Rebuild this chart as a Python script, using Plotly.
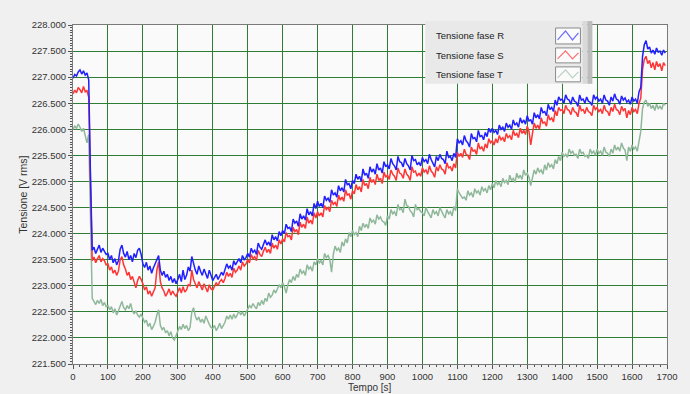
import plotly.graph_objects as go

# time axis (s), one sample every 5 s
tempo = list(range(0, 1700, 5))

fase_R = [
    226.98, 227.05, 227.02, 227.10, 227.14, 227.06, 227.12, 227.04, 227.08, 226.95, 225.10, 223.68, 223.74, 223.62, 223.70, 223.78, 223.64, 223.72, 223.66, 223.60,
    223.62, 223.50, 223.58, 223.44, 223.52, 223.40, 223.48, 223.70, 223.78, 223.62, 223.55, 223.66, 223.50, 223.58, 223.46, 223.62, 223.54, 223.68, 223.72, 223.60,
    223.42, 223.35, 223.45, 223.30, 223.38, 223.24, 223.34, 223.42, 223.50, 223.58, 223.30, 223.20, 223.28, 223.16, 223.22, 223.10, 223.18, 223.06, 223.14, 223.04,
    223.12, 223.22, 223.08, 223.30, 223.12, 223.20, 223.36, 223.28, 223.56, 223.40, 223.30, 223.22, 223.38, 223.28, 223.20, 223.32, 223.24, 223.14, 223.30, 223.18,
    223.10, 223.16, 223.22, 223.12, 223.18, 223.26, 223.20, 223.30, 223.42, 223.34, 223.38, 223.30, 223.48, 223.40, 223.46, 223.52, 223.44, 223.58, 223.50, 223.54,
    223.62, 223.55, 223.72, 223.64, 223.68, 223.60, 223.82, 223.74, 223.70, 223.80, 223.88, 223.78, 223.84, 223.76, 223.98, 223.88, 223.94, 223.86, 224.04, 223.96,
    224.06, 224.00, 224.18, 224.10, 224.12, 224.04, 224.28, 224.20, 224.24, 224.14, 224.38, 224.28, 224.34, 224.26, 224.48, 224.36, 224.42, 224.34, 224.58, 224.48,
    224.62, 224.52, 224.58, 224.50, 224.72, 224.64, 224.68, 224.60, 224.84, 224.74, 224.78, 224.70, 224.92, 224.82, 224.88, 224.80, 225.04, 224.94, 224.96, 224.86,
    225.02, 224.96, 225.14, 225.04, 225.10, 225.00, 225.24, 225.12, 225.16, 225.06, 225.28, 225.18, 225.24, 225.14, 225.34, 225.22, 225.26, 225.16, 225.38, 225.28,
    225.32, 225.24, 225.44, 225.34, 225.30, 225.22, 225.48, 225.38, 225.36, 225.28, 225.44, 225.34, 225.30, 225.22, 225.50, 225.40, 225.42, 225.32, 225.36, 225.30,
    225.46, 225.38, 225.42, 225.34, 225.52, 225.42, 225.36, 225.28, 225.48, 225.40, 225.52, 225.44, 225.42, 225.34, 225.58, 225.46, 225.48, 225.40, 225.54, 225.46,
    225.82, 225.74, 225.78, 225.70, 225.88, 225.78, 225.74, 225.66, 225.92, 225.82, 225.84, 225.76, 225.98, 225.86, 225.88, 225.80, 225.94, 225.86, 226.02, 225.94,
    226.02, 225.94, 225.98, 225.90, 226.08, 226.00, 226.04, 225.96, 226.12, 226.04, 226.08, 226.00, 226.18, 226.08, 226.12, 226.04, 226.22, 226.12, 226.18, 226.10,
    226.26, 226.16, 226.18, 226.10, 226.32, 226.22, 226.28, 226.20, 226.42, 226.32, 226.34, 226.26, 226.48, 226.38, 226.42, 226.34, 226.56, 226.46, 226.62, 226.56,
    226.58, 226.50, 226.66, 226.58, 226.56, 226.48, 226.62, 226.54, 226.52, 226.44, 226.66, 226.56, 226.58, 226.50, 226.62, 226.54, 226.52, 226.46, 226.66, 226.58,
    226.62, 226.54, 226.58, 226.50, 226.66, 226.56, 226.54, 226.46, 226.62, 226.54, 226.68, 226.58, 226.56, 226.48, 226.64, 226.56, 226.60, 226.52, 226.56, 226.48,
    226.62, 226.54, 226.58, 226.50, 226.72, 226.80, 227.40, 227.62, 227.70, 227.54, 227.58, 227.46, 227.52, 227.44, 227.56, 227.48, 227.50, 227.42, 227.52, 227.46,
]

fase_S = [
    226.68, 226.75, 226.70, 226.80, 226.76, 226.70, 226.82, 226.72, 226.74, 226.62, 225.00, 223.48, 223.55, 223.44, 223.52, 223.58, 223.46, 223.52, 223.48, 223.40,
    223.42, 223.30, 223.36, 223.24, 223.30, 223.20, 223.28, 223.50, 223.56, 223.40, 223.32, 223.20, 223.26, 223.12, 223.18, 223.06, 222.96, 223.10, 223.18, 223.12,
    223.04, 222.92, 222.98, 222.84, 222.90, 222.80, 222.88, 222.96, 223.30, 223.46, 223.08, 222.96, 222.90, 222.80, 222.86, 222.94, 222.82, 222.90, 222.84, 222.80,
    222.88, 222.96, 222.86, 222.98, 222.88, 222.92, 223.02, 223.00, 223.30, 223.12, 223.04, 222.96, 223.08, 223.00, 222.92, 223.04, 222.96, 222.88, 223.02, 222.94,
    222.92, 222.98, 223.06, 223.00, 223.08, 223.12, 223.06, 223.14, 223.26, 223.18, 223.24, 223.16, 223.34, 223.26, 223.30, 223.38, 223.30, 223.46, 223.38, 223.42,
    223.50, 223.44, 223.60, 223.52, 223.56, 223.48, 223.68, 223.60, 223.56, 223.66, 223.74, 223.64, 223.70, 223.62, 223.82, 223.72, 223.78, 223.70, 223.88, 223.80,
    223.90, 223.84, 224.02, 223.94, 223.96, 223.88, 224.12, 224.04, 224.08, 223.98, 224.22, 224.12, 224.18, 224.10, 224.32, 224.20, 224.26, 224.18, 224.40, 224.30,
    224.42, 224.34, 224.40, 224.32, 224.54, 224.46, 224.50, 224.42, 224.64, 224.56, 224.60, 224.52, 224.74, 224.64, 224.70, 224.62, 224.84, 224.74, 224.76, 224.66,
    224.82, 224.76, 224.94, 224.84, 224.90, 224.80, 225.04, 224.92, 224.96, 224.86, 225.08, 224.98, 225.04, 224.94, 225.14, 225.02, 225.06, 224.96, 225.18, 225.08,
    225.12, 225.04, 225.22, 225.14, 225.10, 225.02, 225.26, 225.16, 225.14, 225.06, 225.24, 225.14, 225.10, 225.02, 225.28, 225.18, 225.20, 225.10, 225.16, 225.10,
    225.26, 225.18, 225.22, 225.14, 225.30, 225.20, 225.16, 225.08, 225.28, 225.20, 225.32, 225.24, 225.22, 225.14, 225.36, 225.26, 225.28, 225.20, 225.34, 225.26,
    225.56, 225.48, 225.54, 225.46, 225.62, 225.52, 225.50, 225.42, 225.66, 225.58, 225.60, 225.52, 225.74, 225.62, 225.66, 225.58, 225.72, 225.64, 225.82, 225.74,
    225.78, 225.70, 225.82, 225.74, 225.88, 225.80, 225.84, 225.76, 225.92, 225.84, 225.88, 225.80, 225.98, 225.88, 225.92, 225.84, 226.02, 225.92, 225.98, 225.90,
    226.06, 225.96, 225.70, 225.92, 226.12, 226.02, 226.08, 226.00, 226.22, 226.12, 226.14, 226.06, 226.28, 226.18, 226.22, 226.14, 226.36, 226.26, 226.42, 226.36,
    226.38, 226.30, 226.46, 226.38, 226.36, 226.28, 226.42, 226.34, 226.32, 226.24, 226.46, 226.36, 226.38, 226.30, 226.42, 226.34, 226.32, 226.26, 226.46, 226.38,
    226.42, 226.34, 226.38, 226.30, 226.46, 226.36, 226.34, 226.26, 226.42, 226.34, 226.48, 226.38, 226.36, 226.28, 226.44, 226.36, 226.40, 226.22, 226.36, 226.28,
    226.42, 226.34, 226.38, 226.30, 226.50, 226.60, 227.15, 227.34, 227.40, 227.26, 227.32, 227.18, 227.28, 227.14, 227.30, 227.20, 227.26, 227.12, 227.28, 227.22,
]

fase_T = [
    226.00, 226.06, 226.02, 226.10, 226.04, 225.96, 226.02, 225.88, 225.74, 225.90, 224.40, 222.76, 222.70, 222.64, 222.72, 222.66, 222.74, 222.62, 222.68, 222.60,
    222.62, 222.54, 222.60, 222.48, 222.56, 222.44, 222.52, 222.62, 222.70, 222.58, 222.54, 222.62, 222.56, 222.66, 222.52, 222.46, 222.52, 222.44, 222.40, 222.46,
    222.36, 222.30, 222.34, 222.22, 222.28, 222.16, 222.22, 222.30, 222.44, 222.54, 222.24, 222.16, 222.20, 222.10, 222.14, 222.04, 222.12, 222.00, 221.96, 222.06,
    222.14, 222.22, 222.16, 222.26, 222.18, 222.24, 222.14, 222.20, 222.50, 222.58, 222.42, 222.34, 222.40, 222.30, 222.36, 222.28, 222.42, 222.32, 222.26, 222.20,
    222.18, 222.24, 222.14, 222.20, 222.28, 222.18, 222.24, 222.30, 222.42, 222.36, 222.44, 222.36, 222.46, 222.38, 222.44, 222.52, 222.44, 222.50, 222.42, 222.48,
    222.56, 222.62, 222.58, 222.66, 222.60, 222.56, 222.68, 222.62, 222.72, 222.64, 222.76, 222.70, 222.86, 222.78, 222.82, 222.92, 222.86, 222.96, 223.02, 222.96,
    223.06, 222.98, 222.86, 223.02, 223.12, 223.06, 223.18, 223.10, 223.22, 223.16, 223.32, 223.24, 223.28, 223.20, 223.40, 223.32, 223.36, 223.28, 223.46, 223.40,
    223.52, 223.44, 223.48, 223.40, 223.62, 223.54, 223.58, 223.50, 223.26, 223.60, 223.76, 223.68, 223.72, 223.64, 223.84, 223.76, 223.90, 223.82, 224.02, 223.94,
    224.06, 223.98, 224.02, 223.94, 224.14, 224.06, 224.20, 224.12, 224.18, 224.10, 224.30, 224.22, 224.26, 224.18, 224.36, 224.28, 224.32, 224.24, 224.22, 224.16,
    224.34, 224.28, 224.46, 224.38, 224.42, 224.34, 224.56, 224.46, 224.48, 224.40, 224.66, 224.54, 224.52, 224.44, 224.40, 224.32, 224.56, 224.46, 224.48, 224.42,
    224.40, 224.34, 224.50, 224.42, 224.36, 224.30, 224.46, 224.38, 224.42, 224.34, 224.50, 224.42, 224.36, 224.30, 224.46, 224.38, 224.42, 224.34, 224.52, 224.44,
    224.86, 224.78, 224.74, 224.68, 224.70, 224.64, 224.82, 224.74, 224.78, 224.70, 224.86, 224.78, 224.82, 224.74, 224.90, 224.82, 224.86, 224.78, 224.92, 224.84,
    224.96, 224.88, 225.02, 224.94, 224.98, 224.90, 225.06, 224.98, 225.02, 224.94, 225.12, 225.02, 225.06, 224.98, 225.16, 225.06, 225.12, 225.04, 225.22, 225.12,
    225.16, 225.08, 224.92, 225.06, 225.22, 225.14, 225.26, 225.18, 225.22, 225.14, 225.32, 225.22, 225.36, 225.28, 225.32, 225.24, 225.42, 225.34, 225.48, 225.40,
    225.56, 225.48, 225.52, 225.46, 225.62, 225.54, 225.58, 225.50, 225.52, 225.44, 225.62, 225.54, 225.56, 225.48, 225.50, 225.44, 225.62, 225.54, 225.58, 225.50,
    225.62, 225.54, 225.58, 225.50, 225.66, 225.56, 225.54, 225.48, 225.62, 225.54, 225.70, 225.60, 225.66, 225.58, 225.74, 225.64, 225.60, 225.40, 225.66, 225.58,
    225.70, 225.62, 225.66, 225.58, 225.80, 225.96, 226.40, 226.52, 226.56, 226.44, 226.50, 226.40, 226.46, 226.36, 226.48, 226.40, 226.44, 226.38, 226.50, 226.46,
]

series_names = ["Tensione fase R", "Tensione fase S", "Tensione fase T"]
series_colors = ["#1f1fff", "#ff3535", "#8fb89a"]
icon_colors = ["#6b6bff", "#ff6a6a", "#b9cfc0"]

x_ticks = list(range(0, 1701, 100))
y_ticks = [221.5 + 0.5 * i for i in range(14)]

W, H = 690, 394
L, R, T, B = 73, 20, 25, 29
PW, PH = W - L - R, H - T - B


def px(x):
    return (x - L) / PW


def py(y):
    return (H - B - y) / PH


fig = go.Figure()
data = [fase_R, fase_S, fase_T]
for idx in [2, 1, 0]:
    fig.add_trace(go.Scatter(
        x=tempo, y=data[idx], mode="lines", name=series_names[idx],
        line=dict(color=series_colors[idx], width=1.5), showlegend=False,
    ))

font_fam = "Liberation Sans, Arial"
tick_font = dict(family=font_fam, size=9.5, color="#333333")
grid_col = "#2f7d35"

fig.update_xaxes(
    range=[0, 1700], tickvals=x_ticks, ticktext=[str(v) for v in x_ticks],
    showgrid=True, gridcolor=grid_col, gridwidth=1,
    showline=True, linecolor="#7a7a7a", linewidth=1, mirror=True,
    ticks="outside", ticklen=4, tickcolor="#555555",
    minor=dict(dtick=20, ticks="outside", ticklen=2, tickcolor="#555555", showgrid=False),
    tickfont=tick_font, zeroline=False,
)
fig.update_yaxes(
    range=[221.5, 228.0], tickvals=y_ticks, ticktext=[f"{v:.3f}" for v in y_ticks],
    showgrid=True, gridcolor=grid_col, gridwidth=1,
    showline=True, linecolor="#7a7a7a", linewidth=1, mirror=True,
    ticks="outside", ticklen=4, tickcolor="#555555",
    minor=dict(dtick=0.05, ticks="outside", ticklen=2, tickcolor="#555555", showgrid=False),
    tickfont=tick_font, zeroline=False,
)

shapes = []
annotations = []

# custom legend (text on the left, icon box on the right)
lx0, lx1, ly0, ly1 = 427, 595, 21, 84
shapes.append(dict(type="rect", xref="paper", yref="paper", layer="above",
                   x0=px(lx0), x1=px(585), y0=py(ly1), y1=py(ly0),
                   fillcolor="#e9e9e9", line=dict(width=0)))
shapes.append(dict(type="rect", xref="paper", yref="paper", layer="above",
                   x0=px(585), x1=px(590), y0=py(ly1), y1=py(ly0),
                   fillcolor="#d9d9d9", line=dict(width=0)))
shapes.append(dict(type="rect", xref="paper", yref="paper", layer="above",
                   x0=px(590), x1=px(lx1), y0=py(ly1), y1=py(ly0),
                   fillcolor="#bdbdbd", line=dict(width=0)))
rows_y = [(28, 44), (48, 63), (67, 82)]
for i, (y0, y1) in enumerate(rows_y):
    annotations.append(dict(
        x=px(436), y=py((y0 + y1) / 2), xref="paper", yref="paper",
        text=series_names[i], showarrow=False, xanchor="left", yanchor="middle",
        font=dict(family=font_fam, size=9.5, color="#222222"),
    ))
    bx0, bx1 = 558, 583
    shapes.append(dict(type="rect", xref="paper", yref="paper", layer="above",
                       x0=px(bx0), x1=px(bx1), y0=py(y1), y1=py(y0),
                       fillcolor="#fbfbfb", line=dict(color="#8a8a8a", width=1)))
    pts = [(bx0 + 2, y1 - 4), (bx0 + 10, y0 + 3), (bx0 + 17, y1 - 4), (bx1 - 2, y0 + 5)]
    path = "M " + " L ".join(f"{px(a):.5f},{py(b):.5f}" for a, b in pts)
    shapes.append(dict(type="path", xref="paper", yref="paper", layer="above",
                       path=path, line=dict(color=icon_colors[i], width=1.2)))

# axis titles
annotations.append(dict(
    x=px(22), y=0.5, xref="paper", yref="paper", text="Tensione [V rms]",
    showarrow=False, textangle=-90, xanchor="center", yanchor="middle",
    font=dict(family=font_fam, size=10.5, color="#333333"),
))
annotations.append(dict(
    x=0.5, y=py(388.5), xref="paper", yref="paper", text="Tempo [s]",
    showarrow=False, xanchor="center", yanchor="middle",
    font=dict(family=font_fam, size=10, color="#333333"),
))

fig.update_layout(
    width=W, height=H,
    margin=dict(l=L, r=R, t=T, b=B, pad=0),
    paper_bgcolor="#f0f0f0", plot_bgcolor="#fafafa",
    shapes=shapes, annotations=annotations, showlegend=False,
)

fig.write_html(
    "out.html",
    config={"displayModeBar": False},
    post_script="document.body.style.margin='0';document.body.style.background='#f0f0f0';",
)
